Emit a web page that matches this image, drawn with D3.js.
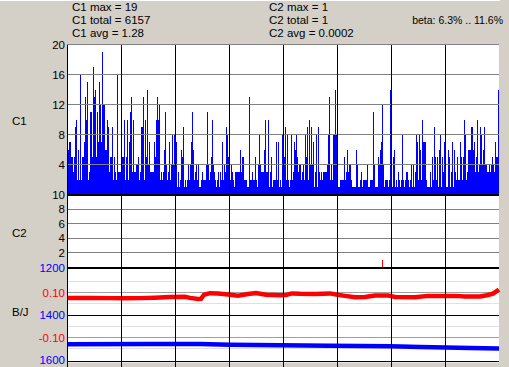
<!DOCTYPE html>
<html><head><meta charset="utf-8">
<script src="https://cdn.jsdelivr.net/npm/d3@7"></script>
<style>
html,body{margin:0;padding:0;background:#d4d0c8;overflow:hidden}
svg{display:block}
text{font-family:"Liberation Sans",Arial,sans-serif}
</style></head><body>
<svg id="c" width="509" height="367"></svg>
<script>
// ---- data ----
const c1Values = [
6,6,7,7,5,5,3,5,9,10, 2,6,2,16,2,5,5,7,13,10, 15,2,3,11,11,5,17,13,14,5, 11,7,15,12,7,19,12,12,6,6,
10,9,3,5,5,9,2,5,3,2, 16,3,3,3,6,5,5,10,2,5, 10,2,7,11,13,3,10,3,3,4, 4,5,2,3,9,9,13,2,10,5, 14,4,7,3,3,3,3,
7,5,10,13,10,12,2,3,2,3, 6,11,4,2,3,7,2,4,8,4, 8,6,7,1,3,1,2,6,5,9, 1,2,1,2,4,2,4,7,11,6,
2,3,4,2,4,1,1,2,3,2, 2,2,4,11,4,2,3,5,10,4, 3,2,1,2,3,1,3,2,7,2, 4,3,9,8,5,5,2,4,3,2, 1,3,3,3,3,3,
6,3,5,5,2,2,2,1,1,13, 2,2,3,2,2,5,2,1,4,8, 4,3,3,3,6,10,3,3,10,1, 3,5,1,2,2,2,7,2,7,1,
2,1,8,5,5,9,2,8,2,1, 2,8,2,3,7,6,8,5,3,4, 4,2,3,4,2,8,5,9,2,10, 4,9,4,7,1,3,8,1,9,3, 2,3,2,3,3,3,
3,4,8,13,2,4,2,8,8,14, 8,8,1,1,2,2,2,2,5,2, 3,6,3,4,4,2,1,1,1,1, 6,4,1,1,2,3,1,2,2,2,
2,4,1,1,2,2,2,11,4,1, 1,1,5,4,6,7,12,4,1,2, 2,2,1,2,14,2,1,5,6,1, 2,1,3,2,1,2,8,2,1,2, 3,3,2,1,2,4,
1,4,1,3,8,7,2,8,6,2, 10,7,7,7,2,1,1,1,3,1, 5,2,9,5,2,5,1,6,8,1, 5,3,7,8,1,1,6,5,1,3,
7,1,6,3,2,5,2,2,7,5, 2,5,10,8,2,3,6,6,6,9, 9,6,7,3,5,10,3,4,9,8, 4,6,9,4,4,3,3,4,3,4, 5,4,3,7,5,5,14
];
const c1Ticks = [4, 8, 12, 16, 20];
const c2Ticks = [2, 4, 6, 8, 10];
const c2HitIndex = [315];
const c2HitValues = [1];
const bjRedIndex  = [0,23,43,58,73,88,103,118,123,131,134,137,143,151,161,171,181,189,199,213,219,225,233,248,263,269,278,288,298,308,321,328,348,361,388,398,413,420,426,432];
const bjRedValues = [0.076,0.076,0.075,0.074,0.075,0.077,0.080,0.081,0.076,0.071,0.072,0.090,0.097,0.096,0.091,0.086,0.093,0.098,0.090,0.088,0.089,0.096,0.094,0.093,0.096,0.091,0.085,0.079,0.080,0.087,0.087,0.080,0.079,0.085,0.085,0.082,0.082,0.088,0.095,0.113];
const bjBlueIndex  = [0,83,133,163,213,263,293,323,353,379,403,432];
const bjBlueValues = [1523,1522,1522,1525,1527,1529,1531,1532,1535,1537,1539,1541];
const bjBlueTicks = [1200, 1400, 1600];
const bjRedTicks = [0.10, -0.10];
const bjRedMinor = [0.15, 0.05, -0.05, -0.15];
const xGridIdx = [54, 108, 162, 216, 270, 324, 378];
const statsC1 = ["C1 max = 19", "C1 total = 6157", "C1 avg = 1.28"];
const statsC2 = ["C2 max = 1", "C2 total = 1", "C2 avg = 0.0002"];
const betaText = "beta: 6.3% .. 11.6%";
const panelNames = ["C1", "C2", "B/J"];

// ---- scales ----
const x = d3.scaleLinear().domain([0, c1Values.length]).range([67, 499]);
const yC1 = d3.scaleLinear().domain([0, 20]).range([194.5, 44.5]);
const yC2 = d3.scaleLinear().domain([0, 10]).range([267.5, 194.5]);
const yBlue = d3.scaleLinear().domain([1200, 1600]).range([267.5, 362.5]);
const yRed = d3.scaleLinear().domain([-0.10, 0.10]).range([337.5, 292.5]);
const px = v => Math.floor(v) + 0.5;

const svg = d3.select("#c");
svg.append("rect").attr("width", 509).attr("height", 367).attr("fill", "#d4d0c8");
svg.append("line").attr("x1", 0).attr("x2", 500).attr("y1", 0.5).attr("y2", 0.5).attr("stroke", "#fff");

// plot background
svg.append("rect").attr("x", 67).attr("y", 44.5).attr("width", 432).attr("height", 318).attr("fill", "#fff");

const g = svg.append("g").attr("shape-rendering", "crispEdges");

// C1 bars
g.append("g").selectAll("rect").data(c1Values).join("rect")
  .attr("x", (d, i) => x(i)).attr("width", (d, i) => x(i + 1) - x(i))
  .attr("y", d => yC1(d)).attr("height", d => yC1(0) - yC1(d))
  .attr("fill", "#0000ff");

// C1 gridlines
g.append("g").selectAll("line").data(c1Ticks).join("line")
  .attr("x1", 67).attr("x2", 499).attr("y1", d => px(yC1(d))).attr("y2", d => px(yC1(d)))
  .attr("stroke", "#808080");

// C2 gridlines
g.append("g").selectAll("line").data(c2Ticks.filter(d => d < 10)).join("line")
  .attr("x1", 67).attr("x2", 499).attr("y1", d => px(yC2(d))).attr("y2", d => px(yC2(d)))
  .attr("stroke", "#808080");

// C2 hits
g.append("g").selectAll("rect").data(c2HitIndex).join("rect")
  .attr("x", d => x(d)).attr("width", 1)
  .attr("y", (d, i) => yC2(c2HitValues[i])).attr("height", (d, i) => yC2(0) - yC2(c2HitValues[i]))
  .attr("fill", "#ff0000");

// B/J gridlines
g.append("g").selectAll("line").data(bjRedMinor).join("line")
  .attr("x1", 67).attr("x2", 499).attr("y1", d => px(yRed(d))).attr("y2", d => px(yRed(d)))
  .attr("stroke", "#e0e0e0");
g.append("g").selectAll("line").data(bjRedTicks).join("line")
  .attr("x1", 67).attr("x2", 499).attr("y1", d => px(yRed(d))).attr("y2", d => px(yRed(d)))
  .attr("stroke", "#a0a0a0");
g.append("g").selectAll("line").data(bjBlueTicks).join("line")
  .attr("x1", 67).attr("x2", 499).attr("y1", d => px(yBlue(d)) - (d === 1600 ? 1 : 0)).attr("y2", d => px(yBlue(d)) - (d === 1600 ? 1 : 0))
  .attr("stroke", "#000");

// B/J lines
const redLine = d3.line().x((d, i) => x(bjRedIndex[i])).y(d => yRed(d));
svg.append("path").attr("d", redLine(bjRedValues)).attr("fill", "none")
  .attr("stroke", "#ff0000").attr("stroke-width", 4.5);
const blueLine = d3.line().x((d, i) => x(bjBlueIndex[i])).y(d => yBlue(d));
svg.append("path").attr("d", blueLine(bjBlueValues)).attr("fill", "none")
  .attr("stroke", "#0000ff").attr("stroke-width", 4.5);

// vertical grid
const g2 = svg.append("g").attr("shape-rendering", "crispEdges");
g2.selectAll("line.v").data(xGridIdx).join("line")
  .attr("x1", d => px(x(d))).attr("x2", d => px(x(d))).attr("y1", 45).attr("y2", 367)
  .attr("stroke", "#000");
g2.append("line").attr("x1", 67.5).attr("x2", 67.5).attr("y1", 45).attr("y2", 367).attr("stroke", "#000");

// thick separators
[yC1(0), yC2(0)].forEach(y => {
  g2.append("line").attr("x1", 67).attr("x2", 499).attr("y1", y).attr("y2", y)
    .attr("stroke", "#000").attr("stroke-width", 2);
});

// tick labels
const lab = svg.append("g").attr("font-size", "11.5px").attr("text-anchor", "end");
function labels(ticks, scale, fmt, color) {
  lab.append("g").selectAll("text").data(ticks).join("text")
    .attr("x", 65).attr("y", d => Math.min(scale(d), 360)).attr("dy", "0.36em")
    .attr("fill", color).text(fmt);
}
labels(c1Ticks, yC1, d => d, "#000");
labels(c2Ticks, yC2, d => d, "#000");
labels(bjBlueTicks, yBlue, d => d, "#0000ff");
labels(bjRedTicks, yRed, d => (d < 0 ? "-" : "") + Math.abs(d).toFixed(2), "#ff0000");

// panel names
const nameY = [120.5, 233, 311.5];
svg.append("g").attr("font-size", "11.5px").selectAll("text").data(panelNames).join("text")
  .attr("x", 12).attr("y", (d, i) => nameY[i]).attr("dy", "0.36em").text(d => d);

// stats
const st = svg.append("g").attr("font-size", "11.5px");
st.selectAll("text.a").data(statsC1).join("text").attr("class", "a")
  .attr("x", 72).attr("y", (d, i) => 11 + i * 13).text(d => d);
st.selectAll("text.b").data(statsC2).join("text").attr("class", "b")
  .attr("x", 269).attr("y", (d, i) => 11 + i * 13).text(d => d);
st.append("text").attr("x", 503).attr("y", 24).attr("text-anchor", "end")
  .attr("font-size", "10.5px").text(betaText);
</script>
</body></html>
